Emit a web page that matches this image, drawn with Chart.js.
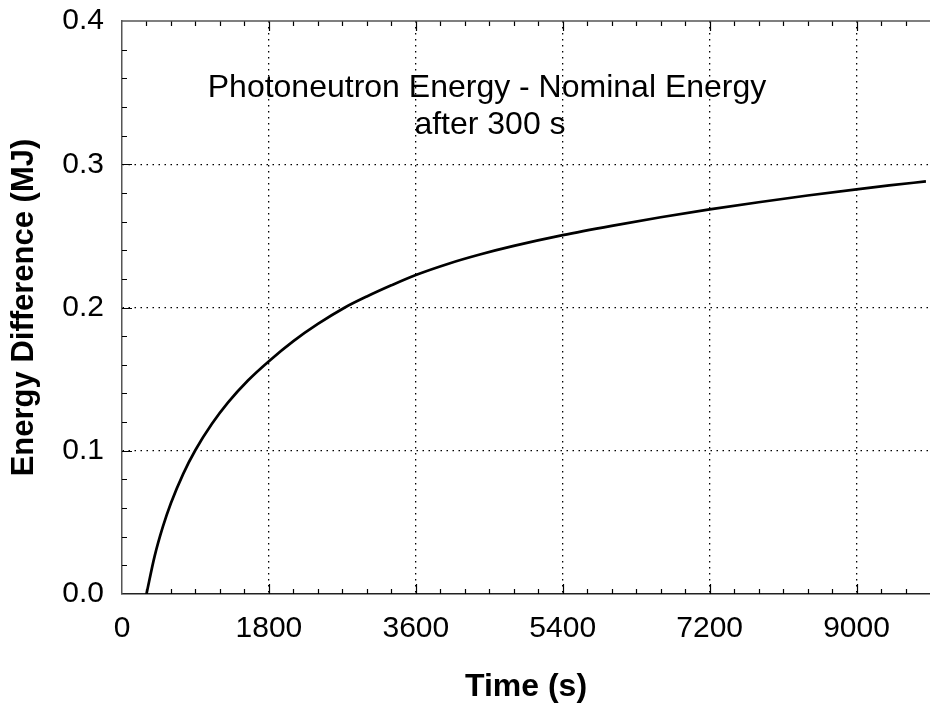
<!DOCTYPE html>
<html>
<head>
<meta charset="utf-8">
<script src="https://cdn.jsdelivr.net/npm/chart.js@4/dist/chart.umd.min.js"></script>
<style>
  body { margin: 0; background: #fff; }
  #wrap { width: 930px; height: 703px; position: relative; }
</style>
</head>
<body>
<div id="wrap"><canvas id="chart"></canvas></div>
<script>
// values
const timeValues = [300, 400, 500, 600, 750, 900, 1100, 1300, 1543, 1800, 2100, 2400, 2731, 3000,
  3300, 3600, 4000, 4384, 4800, 5400, 6000, 6600, 7200, 7800, 8400, 9000, 9400, 9850];
const energyValues = [0, 0.0264, 0.0468, 0.0635, 0.0839, 0.1005, 0.1186, 0.1337, 0.149, 0.1625, 0.1765, 0.1885, 0.200, 0.2077,
  0.2155, 0.2227, 0.2306, 0.2370, 0.2430, 0.2505, 0.2570, 0.2630, 0.2685, 0.2735, 0.2782, 0.2825, 0.2852, 0.2880];
const xTicks = [0, 1800, 3600, 5400, 7200, 9000];
const yTicks = [0, 0.1, 0.2, 0.3, 0.4];
const titleLines = ['Photoneutron Energy - Nominal Energy', 'after 300 s'];

const FONT = "'Liberation Sans', Arial, Helvetica, sans-serif";

// inward tick marks + top frame line + text inside the plot
const framePlugin = {
  id: 'frame',
  afterDraw(chart) {
    const { ctx, chartArea: a, scales: { x, y } } = chart;
    ctx.save();
    ctx.strokeStyle = '#000';
    ctx.lineWidth = 1.2;
    ctx.beginPath();
    for (let v = 300; v < x.max; v += 300) {
      const px = Math.round(x.getPixelForValue(v)) + 0.5;
      const len = v % 1800 === 0 ? 10 : 5;
      ctx.moveTo(px, a.bottom); ctx.lineTo(px, a.bottom - len);
      ctx.moveTo(px, a.top); ctx.lineTo(px, a.top + len);
    }
    for (let i = 1; i < 20; i++) {
      const v = i * 0.02;
      const py = Math.round(y.getPixelForValue(v)) + 0.5;
      const len = i % 5 === 0 ? 10 : 5;
      ctx.moveTo(a.left, py); ctx.lineTo(a.left + len, py);
    }
    ctx.stroke();

    ctx.strokeStyle = '#555';
    ctx.lineWidth = 1.5;
    ctx.beginPath();
    ctx.moveTo(a.left, a.top); ctx.lineTo(a.right, a.top);
    ctx.stroke();

    ctx.fillStyle = '#000';
    ctx.font = '32px ' + FONT;
    ctx.textAlign = 'center';
    ctx.textBaseline = 'middle';
    ctx.fillText(titleLines[0], 487, 88);
    ctx.fillText(titleLines[1], 490, 125);
    ctx.restore();
  }
};

new Chart(document.getElementById('chart'), {
  type: 'line',
  data: {
    labels: timeValues,
    datasets: [{
      data: timeValues.map((t, i) => ({ x: t, y: energyValues[i] })),
      borderColor: '#000',
      borderWidth: 2.7,
      pointRadius: 0,
      cubicInterpolationMode: 'monotone',
      fill: false
    }]
  },
  options: {
    responsive: true,
    maintainAspectRatio: false,
    animation: false,
    layout: { padding: { top: 21, right: 0, left: 0, bottom: 0 } },
    plugins: { legend: { display: false }, tooltip: { enabled: false } },
    scales: {
      x: {
        type: 'linear',
        min: 0,
        max: 9900,
        afterBuildTicks: s => { s.ticks = xTicks.map(v => ({ value: v })); },
        afterFit: s => {
          s.height = 109;
          s.paddingLeft = 0; s.paddingRight = 0;
        },
        ticks: {
          color: '#000',
          font: { family: FONT, size: 30 },
          padding: 17,
          maxRotation: 0,
          autoSkip: false,
          callback: v => String(v)
        },
        grid: {
          drawTicks: false,
          color: ctx => (ctx.tick && ctx.tick.value > 0) ? '#000' : 'rgba(0,0,0,0)',
          lineWidth: 1.3
        },
        border: { display: true, color: '#222', width: 1.5, dash: [1.5, 4.5] },
        title: {
          display: true,
          text: 'Time (s)',
          color: '#000',
          font: { family: FONT, size: 32, weight: 'bold', lineHeight: 1.0 },
          padding: { top: 0, bottom: 0 }
        }
      },
      y: {
        type: 'linear',
        min: 0,
        max: 0.4,
        afterBuildTicks: s => { s.ticks = yTicks.map(v => ({ value: v })); },
        afterFit: s => {
          s.width = 122;
          s.paddingTop = 0; s.paddingBottom = 0;
        },
        ticks: {
          color: '#000',
          font: { family: FONT, size: 30 },
          padding: 18,
          callback: v => Number(v).toFixed(1)
        },
        grid: {
          drawTicks: false,
          color: ctx => (ctx.tick && ctx.tick.value > 0.001 && ctx.tick.value < 0.399) ? '#000' : 'rgba(0,0,0,0)',
          lineWidth: 1.3
        },
        border: { display: true, color: '#555', width: 1.5, dash: [1.5, 4.5] },
        title: {
          display: true,
          text: 'Energy Difference (MJ)',
          color: '#000',
          font: { family: FONT, size: 31, weight: 'bold', lineHeight: 1.1 },
          padding: { top: 7, bottom: 0 }
        }
      }
    }
  },
  plugins: [framePlugin]
});
</script>
</body>
</html>
